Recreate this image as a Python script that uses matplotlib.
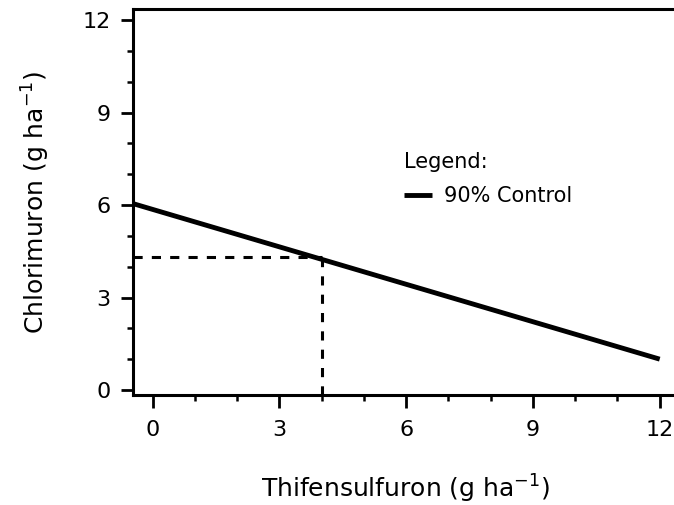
import matplotlib
matplotlib.use('Agg')
import matplotlib.pyplot as plt
from matplotlib.ticker import MultipleLocator

# 90% control isobole
thif = [-0.47, 12.0]
chlor = [6.05, 1.0]

# reference lines for the 4 g/ha thifensulfuron case
ref_x = 4.0
ref_y = 4.3

xticks = [0, 3, 6, 9, 12]
yticks = [0, 3, 6, 9, 12]

plt.rcParams['font.family'] = ['DejaVu Sans']

fig = plt.figure(figsize=(6.74, 5.05), dpi=100)
ax = fig.add_axes([0.197, 0.218, 0.81, 0.764])

ax.plot(thif, chlor, color='black', linewidth=3.5, solid_capstyle='butt',
        label='90% Control')
ax.plot([thif[0], ref_x], [ref_y, ref_y], color='black', linewidth=2.2,
        linestyle=(0, (3, 3)))
ax.plot([ref_x, ref_x], [-0.16, ref_y], color='black', linewidth=2.2,
        linestyle=(0, (3, 3)))

ax.set_xlim(-0.47, 12.45)
ax.set_ylim(-0.16, 12.36)
ax.set_xticks(xticks)
ax.set_yticks(yticks)
ax.xaxis.set_minor_locator(MultipleLocator(1))
ax.yaxis.set_minor_locator(MultipleLocator(1))

ax.spines['right'].set_visible(False)
for s in ['left', 'bottom', 'top']:
    ax.spines[s].set_linewidth(2.2)

ax.tick_params(which='major', length=9, width=2, labelsize=16, pad=7)
ax.tick_params(which='minor', length=4, width=1.8)
ax.tick_params(axis='x', which='major', pad=9)

ax.set_xlabel('Thifensulfuron (g ha$^{-1}$)', fontsize=18, labelpad=24)
ax.set_ylabel('Chlorimuron (g ha$^{-1}$)', fontsize=18, labelpad=22)

leg = ax.legend(title='Legend:', alignment='left', frameon=False, fontsize=15,
                title_fontsize=15, handlelength=1.3, handletextpad=0.6,
                borderpad=0.2, loc='upper left',
                bbox_to_anchor=(0.49, 0.64), borderaxespad=0)
leg._legend_box.sep = 10

fig.savefig('out.png', dpi=100)
